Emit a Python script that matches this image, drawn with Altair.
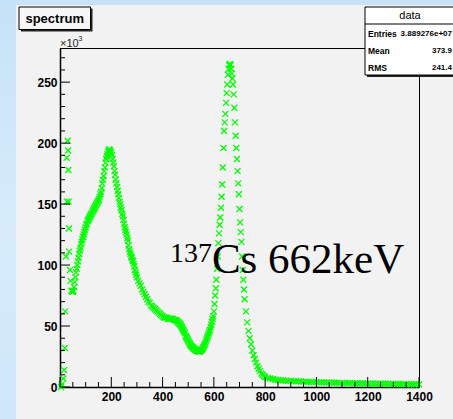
import altair as alt
import pandas as pd

# ---------------- data (counts in units of 10^3) ----------------
low_energy = [4, 7, 13, 16, 19, 20, 23, 26, 26.5, 30, 32, 32.5, 34, 35, 35.5, 39, 41]
low_counts = [0, 2, 7, 14, 32, 62, 107, 188, 152, 202, 194, 178, 152, 130, 111, 96, 87]

# Compton continuum 45 .. 297.5 keV, step 2.5
rise_energy = [45 + 2.5 * i for i in range(102)]
rise_counts = [
    79, 78, 78, 79, 82, 86, 90, 94, 97, 100,
    103, 106, 109, 112, 114, 117, 119, 121, 123, 125,
    127, 129, 131, 133, 134, 136, 137, 138, 139, 140,
    141, 142, 143, 144, 145, 146, 147, 148, 149, 150,
    151, 152, 153, 154, 156, 158, 160, 163, 167, 170,
    173, 177, 180, 184, 187, 189, 191, 193, 194, 195,
    194, 193, 192, 190, 187, 184, 181, 177, 174, 170,
    167, 164, 161, 158, 155, 152, 150, 147, 145, 142,
    140, 137, 134, 131, 129, 127, 125, 122, 120, 116,
    113, 111, 109, 107, 106, 104, 103, 101, 99, 96,
    94, 92,
]

# 300 .. 445 keV, step 5
mid_energy = list(range(300, 450, 5))
mid_counts = [
    90, 87, 85, 83, 80, 78, 76, 74, 72, 70,
    69, 67, 66, 65, 64, 63, 62, 61, 60, 59,
    58, 57, 57, 57, 56, 56, 56, 56, 56, 55,
]

# Compton edge / valley 450 .. 595 keV, step 2.5
valley_energy = [450 + 2.5 * i for i in range(59)]
valley_counts = [
    55, 55, 54, 54, 53, 53, 52, 52, 51, 50,
    49, 48, 47, 46, 45, 44, 42, 41, 40, 39,
    38, 37, 36, 35, 34, 33.5, 33, 32.5, 32, 31.5,
    31, 30.5, 30, 30, 30, 29.5, 29, 29, 29, 29.5,
    30, 30.5, 31, 32, 33, 34, 35, 36.5, 38, 39.5,
    41, 42.5, 44, 45.5, 47, 49, 51, 53.5, 56,
]

# photopeak 597.5 .. 720 keV, step 2.5
peak_energy = [597.5 + 2.5 * i for i in range(50)]
peak_counts = [
    58, 62, 68, 75, 81, 88, 97, 107, 118, 126,
    133, 139, 147, 156, 166, 180, 196, 210, 217, 224,
    233, 241, 248, 256, 261, 264, 265, 264, 261, 257,
    253, 248, 240, 229, 217, 206, 196, 187, 177, 167,
    158, 146, 135, 127, 119, 107, 96, 88, 80, 72,
]

# 725 .. 800 keV, step 5
fall_energy = list(range(725, 805, 5))
fall_counts = [62, 53, 46, 40, 35, 30, 26, 23, 20, 17, 15, 13, 11, 10, 9, 8]

# 810 .. 1400 keV, step 10
tail_energy = list(range(810, 1410, 10))
tail_counts = [
    7.5, 7.0, 6.5, 6.0, 5.8, 5.6, 5.4, 5.2, 5.0, 4.9,
    4.8, 4.7, 4.6, 4.5, 4.4, 4.3, 4.2, 4.1, 4.0, 4.0,
    3.9, 3.8, 3.8, 3.7, 3.6, 3.6, 3.5, 3.5, 3.4, 3.4,
    3.3, 3.3, 3.2, 3.2, 3.1, 3.1, 3.0, 3.0, 2.9, 2.9,
    2.8, 2.8, 2.8, 2.7, 2.7, 2.6, 2.6, 2.6, 2.5, 2.5,
    2.5, 2.4, 2.4, 2.4, 2.3, 2.3, 2.3, 2.2, 2.2, 2.2,
]

x_labels = [200, 400, 600, 800, 1000, 1200, 1400]
x_major = [0, 200, 400, 600, 800, 1000, 1200, 1400]
x_minor = [50, 100, 150, 250, 300, 350, 450, 500, 550, 650, 700, 750,
           850, 900, 950, 1050, 1100, 1150, 1250, 1300, 1350]
y_major = [0, 50, 100, 150, 200, 250]
y_minor = [10, 20, 30, 40, 60, 70, 80, 90, 110, 120, 130, 140, 160, 170,
           180, 190, 210, 220, 230, 240, 260, 270]

stats_names = ["Entries", "Mean", "RMS"]
stats_values = ["3.889276e+07", "373.9", "241.4"]

# ---------------- build ----------------
energy = low_energy + rise_energy + mid_energy + valley_energy + peak_energy + fall_energy + tail_energy
counts = low_counts + rise_counts + mid_counts + valley_counts + peak_counts + fall_counts + tail_counts
df = pd.DataFrame({"energy": energy, "counts": counts})

W, H = 359, 339
FONT = "Liberation Sans"
xs = alt.Scale(domain=[0, 1400], nice=False, zero=False)
ys = alt.Scale(domain=[0, 278], nice=False, zero=False)

points = alt.Chart(df).mark_point(
    shape="M-1,-1L1,1M-1,1L1,-1", filled=False, stroke="#00ff00",
    strokeWidth=1.3, size=36, opacity=1, clip=False
).encode(
    x=alt.X("energy:Q", scale=xs,
            axis=alt.Axis(values=x_labels, format="d", ticks=False, grid=False, title=None,
                          labelFont=FONT, labelFontWeight="bold", labelFontSize=12,
                          labelColor="black", labelPadding=4, domainColor="black",
                          domainWidth=1.5, labelFlush=False, labelOverlap=False)),
    y=alt.Y("counts:Q", scale=ys,
            axis=alt.Axis(values=y_major, format="d", ticks=False, grid=False, title=None,
                          labelFont=FONT, labelFontWeight="bold", labelFontSize=12,
                          labelColor="black", labelPadding=3, domainColor="black",
                          domainWidth=1.5, labelFlush=False, labelOverlap=False)),
)

one = pd.DataFrame({"a": [0]})

# background decorations (slide strips)
blue = "#c8e3f8"
top_strip = alt.Chart(one).mark_rect(color=blue).encode(
    x=alt.value(-60), x2=alt.value(W + 40), y=alt.value(-48), y2=alt.value(-43))
left_strip = alt.Chart(one).mark_rect(
    fill=alt.Gradient(gradient="linear", x1=0, y1=0, x2=0, y2=1,
                      stops=[alt.GradientStop(color="#c6e2f8", offset=0),
                             alt.GradientStop(color="#d8ecfb", offset=0.55),
                             alt.GradientStop(color="#cfe7fa", offset=1)])
).encode(x=alt.value(-60), x2=alt.value(-44), y=alt.value(-48), y2=alt.value(H + 32))

# tick marks (inward)
xt_major = alt.Chart(pd.DataFrame({"energy": x_major})).mark_rule(color="black", strokeWidth=1).encode(
    x=alt.X("energy:Q", scale=xs), y=alt.value(H), y2=alt.value(H - 10))
xt_minor = alt.Chart(pd.DataFrame({"energy": x_minor})).mark_rule(color="black", strokeWidth=1).encode(
    x=alt.X("energy:Q", scale=xs), y=alt.value(H), y2=alt.value(H - 5))
yt_major = alt.Chart(pd.DataFrame({"counts": y_major})).mark_rule(color="black", strokeWidth=1).encode(
    y=alt.Y("counts:Q", scale=ys), x=alt.value(0), x2=alt.value(10))
yt_minor = alt.Chart(pd.DataFrame({"counts": y_minor})).mark_rule(color="black", strokeWidth=1).encode(
    y=alt.Y("counts:Q", scale=ys), x=alt.value(0), x2=alt.value(5))

# annotation
ann_sup = alt.Chart(pd.DataFrame({"energy": [428.7], "counts": [102.5], "t": ["137"]})).mark_text(
    font="Liberation Serif", fontSize=28, align="left", baseline="alphabetic", color="black"
).encode(x=alt.X("energy:Q", scale=xs), y=alt.Y("counts:Q", scale=ys), text="t:N")
ann_main = alt.Chart(pd.DataFrame({"energy": [592.4], "counts": [93.5], "t": ["Cs 662keV"]})).mark_text(
    font="Liberation Serif", fontSize=43, align="left", baseline="alphabetic", color="black"
).encode(x=alt.X("energy:Q", scale=xs), y=alt.Y("counts:Q", scale=ys), text="t:N")

# x10^3 exponent
exp_txt = alt.Chart(pd.DataFrame({"t": ["\u00d710"]})).mark_text(
    font=FONT, fontSize=11, align="left", baseline="alphabetic", color="#222"
).encode(x=alt.value(0), y=alt.value(-1.5), text="t:N")
exp_sup = alt.Chart(pd.DataFrame({"t": ["3"]})).mark_text(
    font=FONT, fontSize=7, align="left", baseline="alphabetic", color="#222"
).encode(x=alt.value(18.5), y=alt.value(-7), text="t:N")

# title box
title_shadow = alt.Chart(one).mark_rect(color="#222").encode(
    x=alt.value(-39), x2=alt.value(32.5), y=alt.value(-39.5), y2=alt.value(-16.5))
title_box = alt.Chart(one).mark_rect(fill="#f7f7f7", stroke="black", strokeWidth=1).encode(
    x=alt.value(-41), x2=alt.value(30.5), y=alt.value(-41), y2=alt.value(-18.5))
title_txt = alt.Chart(pd.DataFrame({"t": ["spectrum"]})).mark_text(
    font=FONT, fontSize=13, fontWeight="bold", color="black", align="center", baseline="middle"
).encode(x=alt.value(-5.3), y=alt.value(-29.5), text="t:N")

# stats box
stats_shadow = alt.Chart(one).mark_rect(color="#222").encode(
    x=alt.value(307), x2=alt.value(400), y=alt.value(-39), y2=alt.value(29))
stats_box = alt.Chart(one).mark_rect(fill="white", stroke="black", strokeWidth=1).encode(
    x=alt.value(305), x2=alt.value(398), y=alt.value(-41), y2=alt.value(27))
stats_line = alt.Chart(one).mark_rule(color="black", strokeWidth=1).encode(
    x=alt.value(305), x2=alt.value(398), y=alt.value(-24), y2=alt.value(-24))
stats_head = alt.Chart(pd.DataFrame({"t": ["data"]})).mark_text(
    font=FONT, fontSize=11, color="black", align="center", baseline="middle"
).encode(x=alt.value(350), y=alt.value(-32), text="t:N")

row_y = [-14.3, 2.7, 20]
stats_layers = []
for name, val, yy in zip(stats_names, stats_values, row_y):
    stats_layers.append(alt.Chart(pd.DataFrame({"t": [name]})).mark_text(
        font=FONT, fontSize=8.5, fontWeight="bold", color="black",
        align="left", baseline="middle").encode(x=alt.value(308), y=alt.value(yy), text="t:N"))
    stats_layers.append(alt.Chart(pd.DataFrame({"t": [val]})).mark_text(
        font=FONT, fontSize=8, fontWeight="bold", color="black",
        align="right", baseline="middle").encode(x=alt.value(392), y=alt.value(yy), text="t:N"))

chart = alt.layer(
    points, top_strip, left_strip, xt_major, xt_minor, yt_major, yt_minor,
    ann_sup, ann_main, exp_txt, exp_sup,
    title_shadow, title_box, title_txt,
    stats_shadow, stats_box, stats_line, stats_head, *stats_layers,
).properties(
    width=W, height=H,
    autosize=alt.AutoSizeParams(type="none"),
    padding={"left": 60, "top": 48, "right": 34, "bottom": 32},
    background="#f2f2f2",
).configure_view(fill="#f2f2f2", stroke="black", strokeWidth=1)

chart.save("out.html", embed_options={"renderer": "svg", "actions": False})
